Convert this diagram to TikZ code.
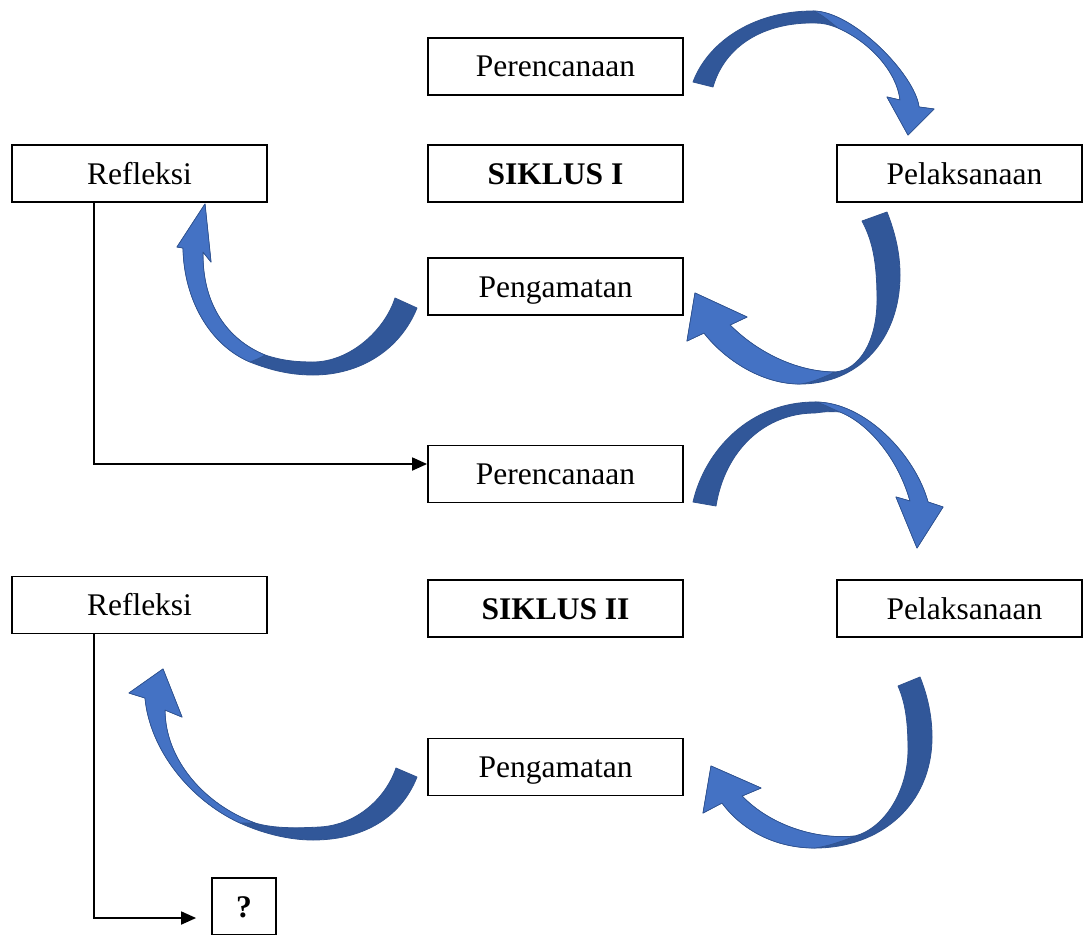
\documentclass[tikz,border=0pt]{standalone}
\usepackage{fontspec}
\setmainfont{Liberation Serif}
\usetikzlibrary{arrows.meta,calc}
\definecolor{rdark}{RGB}{49,87,153}
\definecolor{rlight}{RGB}{68,114,196}
\definecolor{redge}{RGB}{47,82,143}
\tikzset{
  box/.style={draw, line width=1.8pt, minimum width=255pt, minimum height=57pt,
    inner sep=0pt, text height=21pt, text depth=0pt, font=\fontsize{31.5}{36}\selectfont},
  bbox/.style={box, font=\fontsize{31.5}{36}\selectfont\bfseries},
  conn/.style={line width=1.8pt, -{Triangle[length=15pt,width=13pt]}},
  dk/.style={fill=rdark, draw=redge, line width=0.8pt, line join=round},
  lt/.style={fill=rlight, draw=redge, line width=0.6pt, line join=round}
}
\begin{document}
\begin{tikzpicture}[x=1pt,y=-1pt]
\useasboundingbox (0,0) rectangle (1083,934);
\fill[white] (0,0) rectangle (1083,934);

% ---------- boxes ----------
\node[box] (per1) at (555.5,66.5) {Perencanaan};
\node[bbox] (sik1) at (555.5,173.5) {SIKLUS I};
\node[box] (pen1) at (555.5,286.5) {Pengamatan};
\node[box] (ref1) at (139.5,173.5) {Refleksi};
\node[box,minimum width=245pt] (pel1) at (959.5,173.5) {\hspace*{10pt}Pelaksanaan};

\node[box] (per2) at (555.5,474) {Perencanaan};
\node[bbox] (sik2) at (555.5,608.5) {SIKLUS II};
\node[box] (pen2) at (555.5,767) {Pengamatan};
\node[box] (ref2) at (139.5,605) {Refleksi};
\node[box,minimum width=245pt] (pel2) at (959.5,608.5) {\hspace*{10pt}Pelaksanaan};

\node[bbox,minimum width=64pt] (q) at (244,906.5) {?};

% ---------- connectors ----------
\draw[conn] ($(ref1.south west)+(83,0)$) |- ($(per2.west)+(0,-10)$);
\draw[conn,shorten >=15pt] ($(ref2.south west)+(83,0)$) |- ($(q.west)+(0,11.5)$);

% ---------- curved arrows, cycle I ----------
% A1 Perencanaan -> Pelaksanaan
\path[dk] (693,82) .. controls (707,44) and (751,11) .. (813,11)
  .. controls (853,11) and (915,75) .. (919,107)
  -- (934,109) -- (908,135) -- (887,97) -- (900,100)
  .. controls (897,72) and (870,42) .. (838,28)
  .. controls (828,24) and (822,23) .. (815,23)
  .. controls (765,22) and (725,45) .. (713,87) -- cycle;
\path[lt] (813,11) .. controls (853,11) and (915,75) .. (919,107)
  -- (934,109) -- (908,135) -- (887,97) -- (900,100)
  .. controls (897,72) and (870,42) .. (838,28)
  .. controls (828,20) and (820,13) .. (813,11) -- cycle;

% A2 Pelaksanaan -> Pengamatan
\path[dk] (887,212) .. controls (896,235) and (900,255) .. (900,275)
  .. controls (900,340) and (858,384) .. (800,384)
  .. controls (762,384) and (725,360) .. (704,333)
  -- (687,341) -- (695,293) -- (747,317) -- (730,325)
  .. controls (760,355) and (800,372) .. (835,372)
  .. controls (860,370) and (877,340) .. (877,300)
  .. controls (877,260) and (872,240) .. (862,221) -- cycle;
\path[lt] (800,384) .. controls (762,384) and (725,360) .. (704,333)
  -- (687,341) -- (695,293) -- (747,317) -- (730,325)
  .. controls (760,355) and (800,372) .. (835,372)
  .. controls (822,378) and (810,383) .. (800,384) -- cycle;

% A3 Pengamatan -> Refleksi
\path[dk] (417,308) .. controls (400,350) and (360,375) .. (313,375)
  .. controls (290,375) and (270,370) .. (250,362)
  .. controls (210,345) and (184,300) .. (183,248)
  -- (177,247) -- (205,204) -- (211,262) -- (203,252)
  .. controls (202,305) and (228,340) .. (265,355)
  .. controls (283,361) and (298,362) .. (313,362)
  .. controls (350,362) and (385,330) .. (395,298) -- cycle;
\path[lt] (250,362) .. controls (210,345) and (184,300) .. (183,248)
  -- (177,247) -- (205,204) -- (211,262) -- (203,252)
  .. controls (202,305) and (228,340) .. (265,355)
  .. controls (260,358) and (255,360) .. (250,362) -- cycle;

% ---------- curved arrows, cycle II ----------
% A4 Perencanaan -> Pelaksanaan
\path[dk] (693,502) .. controls (705,450) and (750,402) .. (815,402)
  .. controls (865,402) and (915,455) .. (928,502)
  -- (943,507) -- (917,548) -- (896,497) -- (910,501)
  .. controls (898,458) and (868,423) .. (840,412)
  .. controls (830,411) and (822,412) .. (815,413)
  .. controls (765,413) and (725,450) .. (716,506) -- cycle;
\path[lt] (815,402) .. controls (865,402) and (915,455) .. (928,502)
  -- (943,507) -- (917,548) -- (896,497) -- (910,501)
  .. controls (898,458) and (868,423) .. (840,412)
  .. controls (830,408) and (822,403) .. (815,402) -- cycle;

% A5 Pelaksanaan -> Pengamatan
\path[dk] (920,677) .. controls (928,697) and (932,717) .. (932,737)
  .. controls (932,805) and (880,848) .. (815,848)
  .. controls (775,848) and (742,830) .. (722,803)
  -- (703,813) -- (711,766) -- (761,788) -- (742,796)
  .. controls (770,825) and (815,840) .. (855,836)
  .. controls (885,828) and (908,790) .. (908,750)
  .. controls (908,720) and (905,702) .. (898,686) -- cycle;
\path[lt] (815,848) .. controls (775,848) and (742,830) .. (722,803)
  -- (703,813) -- (711,766) -- (761,788) -- (742,796)
  .. controls (770,825) and (815,840) .. (855,836)
  .. controls (840,842) and (828,846) .. (815,848) -- cycle;

% A6 Pengamatan -> Refleksi
\path[dk] (417,777) .. controls (400,820) and (360,840) .. (313,840)
  .. controls (288,840) and (262,833) .. (240,823)
  .. controls (190,800) and (150,750) .. (145,698)
  -- (129,693) -- (163,669) -- (182,717) -- (165,710)
  .. controls (165,760) and (205,805) .. (255,823)
  .. controls (275,829) and (300,828) .. (320,827)
  .. controls (355,825) and (385,800) .. (396,768) -- cycle;
\path[lt] (240,823) .. controls (190,800) and (150,750) .. (145,698)
  -- (129,693) -- (163,669) -- (182,717) -- (165,710)
  .. controls (165,760) and (205,805) .. (255,823)
  .. controls (250,823) and (245,823) .. (240,823) -- cycle;
\end{tikzpicture}
\end{document}
